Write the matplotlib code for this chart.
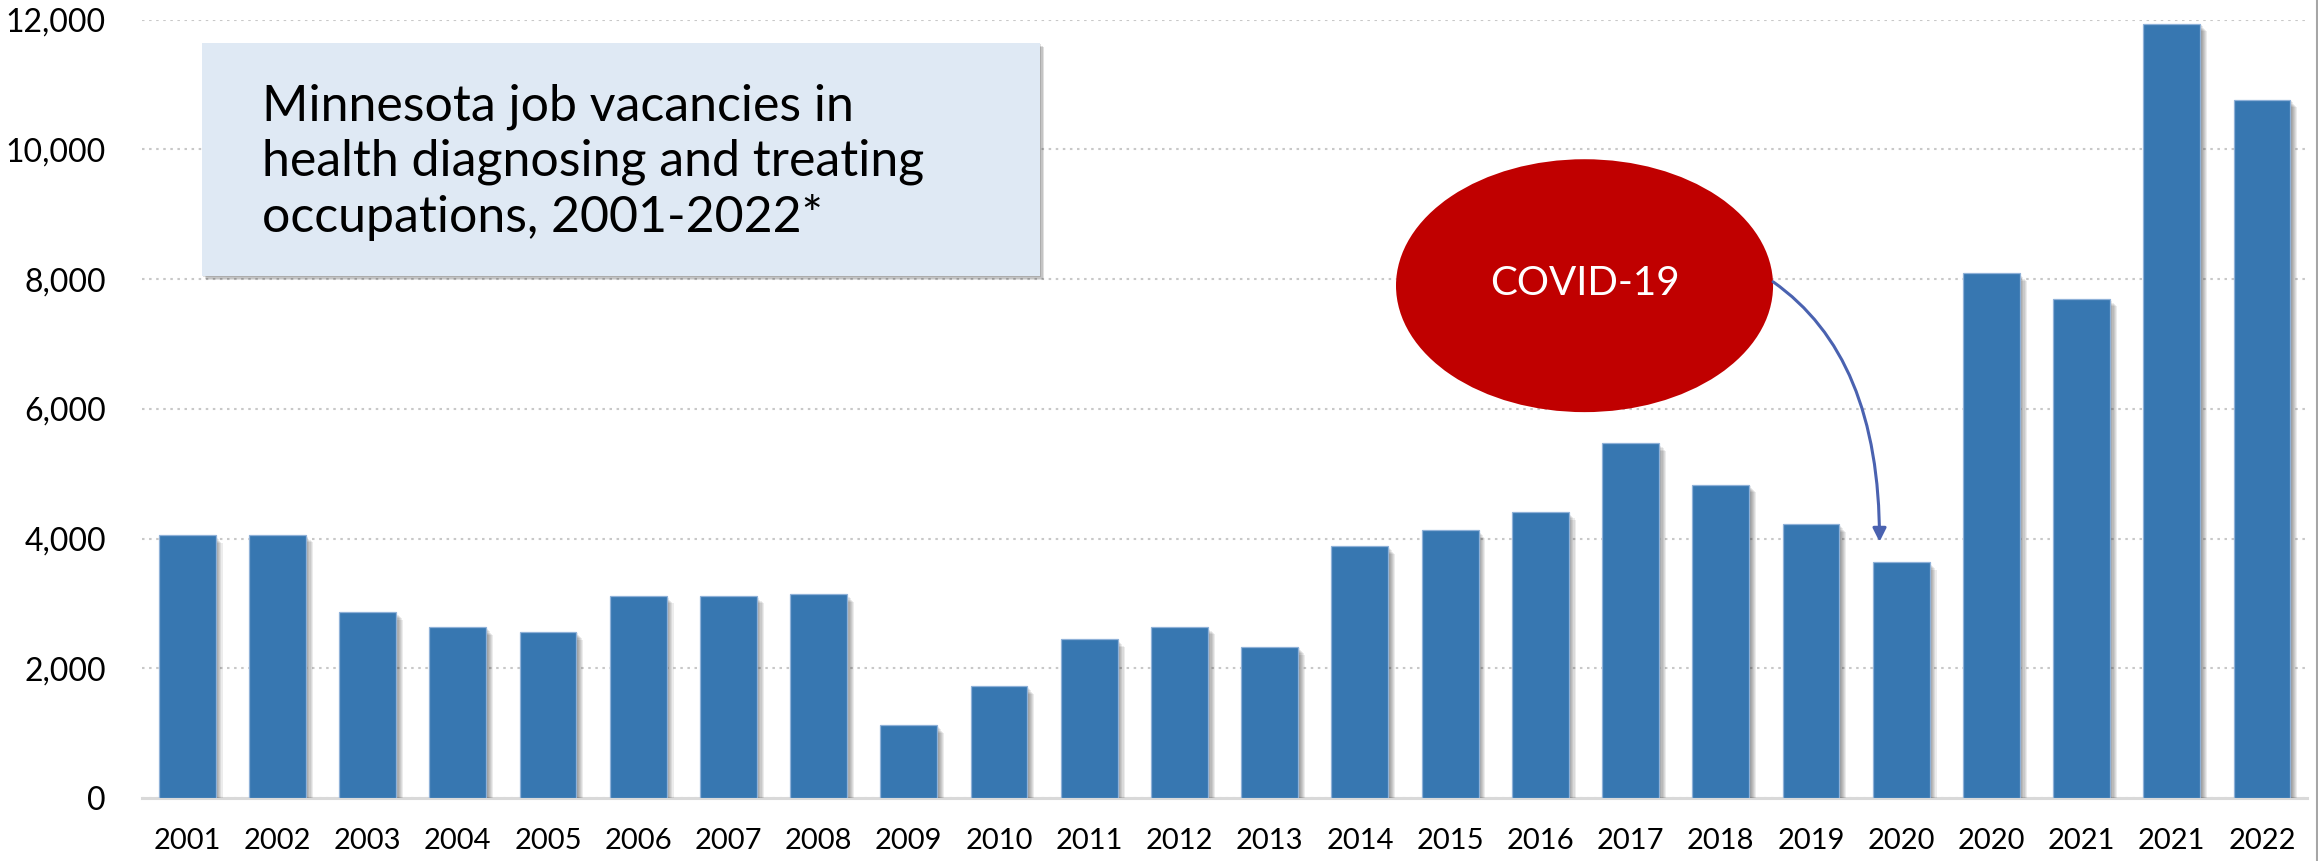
import matplotlib
matplotlib.use("Agg")
import matplotlib.pyplot as plt
import matplotlib.patheffects as pe
from matplotlib.patches import Ellipse, Rectangle
from matplotlib.lines import Line2D
from matplotlib.ticker import FuncFormatter
import numpy as np

# ---- data -------------------------------------------------------------
years = ["2001", "2002", "2003", "2004", "2005", "2006", "2007", "2008",
         "2009", "2010", "2011", "2012", "2013", "2014", "2015", "2016",
         "2017", "2018", "2019", "2020", "2020", "2021", "2021", "2022"]
vacancies = [4050, 4060, 2870, 2630, 2560, 3120, 3120, 3140,
             1120, 1720, 2450, 2640, 2330, 3880, 4130, 4410,
             5470, 4830, 4220, 3640, 8090, 7700, 11940, 10770]
y_ticks = [0, 2000, 4000, 6000, 8000, 10000, 12000]

title_lines = ["Minnesota job vacancies in",
               "health diagnosing and treating",
               "occupations, 2001-2022*"]
callout_label = "COVID-19"
callout_bar = 19  # first 2020 survey

# ---- style ------------------------------------------------------------
FONT = "Lato"
BAR_COLOR = "#3777b1"
BAR_EDGE = "#8fb1d8"
GRID_COLOR = "#c8c8c8"
BASE_COLOR = "#d9d9d9"
BOX_COLOR = "#dfe9f4"
CALLOUT_COLOR = "#c00000"
ARROW_COLOR = "#4a62b0"

fig = plt.figure(figsize=(23.18, 8.61), dpi=100)
fig.patch.set_facecolor("white")
ax = fig.add_axes([0.0613, 0.0732, 0.9340, 0.9038])

x = np.arange(len(years))

# soft drop shadow under every bar
shadow = [pe.SimplePatchShadow(offset=(o, -o * 1.1), shadow_rgbFace="black", alpha=0.075)
          for o in (1.0, 1.8, 2.6, 3.4, 4.2, 5.0)] + [pe.Normal()]

bars = ax.bar(x, vacancies, width=0.63, color=BAR_COLOR, edgecolor=BAR_EDGE,
              linewidth=0.9, zorder=3)
for b in bars:
    b.set_path_effects(shadow)

ax.set_xlim(-0.5, len(years) - 0.5)
ax.set_ylim(0, 12000)
ax.set_xticks(x)
ax.set_xticklabels(years, fontsize=21, family=FONT, color="#000000")
ax.set_yticks(y_ticks)
ax.yaxis.set_major_formatter(FuncFormatter(lambda v, _: f"{v:,.0f}"))
for lbl in ax.get_yticklabels():
    lbl.set_fontsize(23)
    lbl.set_family(FONT)
ax.tick_params(axis="both", length=0)
ax.tick_params(axis="y", pad=26)
ax.tick_params(axis="x", pad=21.5)

ax.yaxis.grid(True, color=GRID_COLOR, linestyle=(0, (1.2, 2.2)), linewidth=1.5)
ax.set_axisbelow(True)
for side in ("top", "right", "left"):
    ax.spines[side].set_visible(False)
ax.spines["bottom"].set_color(BASE_COLOR)
ax.spines["bottom"].set_linewidth(2.2)
ax.spines["bottom"].set_zorder(2)

# ---- title box --------------------------------------------------------
box = Rectangle((0.0871, 0.6794), 0.3616, 0.2706, transform=fig.transFigure,
                facecolor=BOX_COLOR, edgecolor="none", zorder=5)
box.set_path_effects([pe.SimplePatchShadow(offset=(o, -o), shadow_rgbFace="black", alpha=0.12)
                      for o in (1.0, 2.0, 3.0)] + [pe.Normal()])
fig.add_artist(box)
for line, yb in zip(title_lines, (0.8598, 0.7956, 0.7309)):
    fig.text(0.1129, yb, line, fontsize=36, family=FONT, color="#000000",
             ha="left", va="baseline", zorder=6)

# ---- COVID-19 callout -------------------------------------------------
ell_cx, ell_cy, ell_w, ell_h = 15.49, 7900, 4.18, 3900
ell = Ellipse((ell_cx, ell_cy), ell_w, ell_h, facecolor=CALLOUT_COLOR,
              edgecolor="none", zorder=6)
ax.add_patch(ell)
ax.text(ell_cx, ell_cy + 40, callout_label, fontsize=29, family=FONT,
        color="white", ha="center", va="center", zorder=7)

ax.annotate("", xy=(callout_bar - 0.24, vacancies[callout_bar] + 310),
            xytext=(ell_cx + ell_w / 2, ell_cy + 60),
            arrowprops=dict(arrowstyle="-|>,head_length=0.8,head_width=0.4",
                            color=ARROW_COLOR, lw=2.2, shrinkA=0, shrinkB=0,
                            connectionstyle="angle3,angleA=-35,angleB=90"),
            zorder=7)

# thin frame line at the right edge
fig.add_artist(Line2D([0.9994, 0.9994], [0, 1], transform=fig.transFigure,
                      color="#a6a6a6", linewidth=1.5))

fig.savefig("out.png", dpi=100, facecolor="white")
